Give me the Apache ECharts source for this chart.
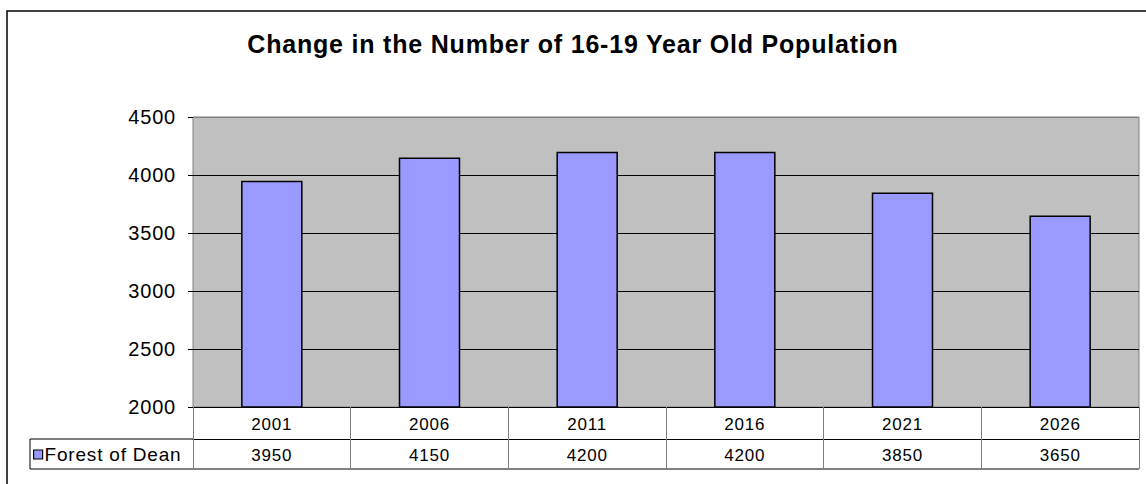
<!DOCTYPE html>
<html>
<head>
<meta charset="utf-8">
<script src="https://cdn.jsdelivr.net/npm/echarts@6/dist/echarts.min.js"></script>
<style>
  html, body { margin: 0; padding: 0; background: #fff; }
  #chart { width: 1146px; height: 484px; }
  /* slightly open glyph spacing, like the original spreadsheet rendering */
  #chart svg text { letter-spacing: 0.8px; }
</style>
</head>
<body>
<div id="chart"></div>
<script>
// ---- data ----
const years = ['2001', '2006', '2011', '2016', '2021', '2026'];
const population = [3950, 4150, 4200, 4200, 3850, 3650];
const seriesName = 'Forest of Dean';
const chartTitle = 'Change in the Number of 16-19 Year Old Population';
const yMin = 2000, yMax = 4500, yStep = 500;

// ---- styling ----
const FONT = "'Liberation Sans', Arial, sans-serif";
const BLACK = '#000000';
const GREY = '#808080';

const chart = echarts.init(document.getElementById('chart'), null, { renderer: 'svg' });

const option = {
  animation: false,
  backgroundColor: '#ffffff',
  title: {
    text: chartTitle,
    left: 'center',
    top: 31,
    padding: 0,
    textStyle: { fontFamily: FONT, fontSize: 25, fontWeight: 'bold', color: BLACK }
  },
  legend: {
    data: [seriesName],
    left: 33,
    top: 445,
    padding: 0,
    icon: 'rect',
    itemWidth: 9,
    itemHeight: 9,
    itemStyle: { borderColor: BLACK, borderWidth: 1.2 },
    textStyle: { fontFamily: FONT, fontSize: 19, color: BLACK, padding: [0, 0, 0, -3] }
  },
  grid: {
    left: 193, top: 117, right: 7, bottom: 77,
    show: true,
    backgroundColor: '#c0c0c0',
    borderColor: GREY,
    borderWidth: 1
  },
  xAxis: [
    {
      // category row of the data table
      type: 'category',
      data: years,
      position: 'bottom',
      axisLine: { lineStyle: { color: BLACK, width: 1 } },
      axisTick: { show: true, length: 62, lineStyle: { color: GREY, width: 1 } },
      axisLabel: { margin: 9, fontFamily: FONT, fontSize: 17, color: BLACK }
    },
    {
      // value row of the data table
      type: 'category',
      data: years,
      position: 'bottom',
      offset: 32,
      axisLine: { lineStyle: { color: BLACK, width: 1 } },
      axisTick: { show: false },
      axisLabel: {
        margin: 8, fontFamily: FONT, fontSize: 17, color: BLACK,
        formatter: (v, i) => String(population[i])
      }
    }
  ],
  yAxis: {
    type: 'value',
    min: yMin,
    max: yMax,
    interval: yStep,
    axisLine: { show: false },
    axisTick: { show: true, length: 5, lineStyle: { color: BLACK } },
    axisLabel: {
      margin: 17, fontFamily: FONT, fontSize: 20, color: BLACK,
      formatter: (v) => String(v)
    },
    splitLine: {
      show: true,
      lineStyle: { color: [BLACK, BLACK, BLACK, BLACK, BLACK, GREY], width: 1 }
    }
  },
  series: [
    {
      name: seriesName,
      type: 'bar',
      data: population,
      barWidth: '39%',
      itemStyle: { color: '#9999ff', borderColor: BLACK, borderWidth: 1.5 }
    }
  ],
  graphic: [
    // chart frame (right and bottom edges fall outside the view)
    { type: 'rect', shape: { x: 7, y: 11, width: 1300, height: 600 },
      style: { fill: 'none', stroke: BLACK, lineWidth: 1.5 }, silent: true, z: -1 },
    // legend cell of the data table
    { type: 'line', shape: { x1: 30, y1: 439, x2: 193, y2: 439 }, style: { stroke: BLACK, lineWidth: 1 } },
    { type: 'line', shape: { x1: 30, y1: 469, x2: 1139, y2: 469 }, style: { stroke: BLACK, lineWidth: 1 } },
    { type: 'line', shape: { x1: 30, y1: 439, x2: 30, y2: 469 }, style: { stroke: BLACK, lineWidth: 1 } }
  ]
};

chart.setOption(option);
</script>
</body>
</html>
